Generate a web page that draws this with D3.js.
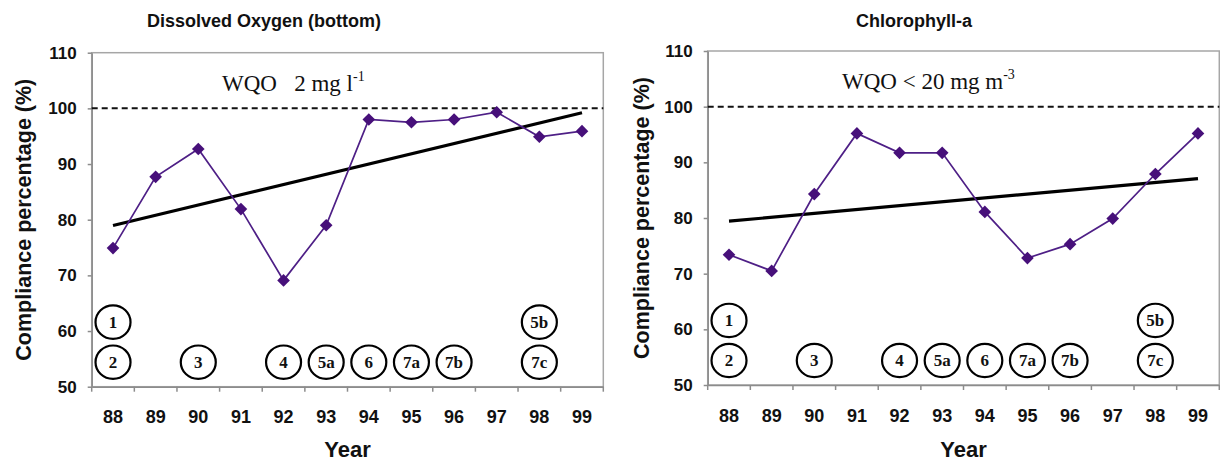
<!DOCTYPE html>
<html><head><meta charset="utf-8">
<script src="https://cdn.jsdelivr.net/npm/d3@7"></script>
<style>
html,body{margin:0;padding:0;background:#fff;}
svg{display:block;}
</style></head>
<body>
<svg id="chart" width="1220" height="462"></svg>
<script>
// ---- data ----
const years = ["88","89","90","91","92","93","94","95","96","97","98","99"];
const doCompliance  = [74.9, 87.7, 92.7, 81.9, 69.1, 79.0, 98.0, 97.5, 98.0, 99.3, 94.9, 95.9];
const chlCompliance = [73.4, 70.5, 84.3, 95.2, 91.7, 91.7, 81.1, 72.8, 75.3, 79.9, 87.9, 95.2];
const yTickValues = [50, 60, 70, 80, 90, 100, 110];
const objectiveLevel = 100;
const markerLabels = ["1","2","3","4","5a","6","7a","7b","5b","7c"];
const markerYears  = ["88","88","90","92","93","94","95","96","98","98"];
const markerRows   = [1, 2, 2, 2, 2, 2, 2, 2, 1, 2];
const titles = ["Dissolved Oxygen (bottom)", "Chlorophyll-a"];
const wqoMain = ["WQO   2 mg l", "WQO < 20 mg m"];
const wqoSup  = ["-1", "-3"];

const svg = d3.select("#chart");
const rowValue = {1: 61.6, 2: 54.4};

function panel(cfg) {
  const {x0, x1, y0, y1, values, title, titleX, wqo, sup, wqoX, wqoY, yTitleX} = cfg;
  const g = svg.append("g");
  const x = d3.scaleBand().domain(years).range([x0, x1]);
  const y = d3.scaleLinear().domain([50, 110]).range([y1, y0]);
  const cx = d => x(d) + x.bandwidth() / 2;

  // frame
  g.append("rect").attr("x", x0).attr("y", y0).attr("width", x1 - x0).attr("height", y1 - y0)
    .attr("fill", "none").attr("stroke", "#a6a6a6").attr("stroke-width", 1.5);

  // y axis
  const ya = g.append("g").attr("transform", `translate(${x0},0)`)
    .call(d3.axisLeft(y).tickValues(yTickValues).tickSize(4).tickSizeOuter(0).tickPadding(11));
  ya.select(".domain").attr("stroke", "#8c8c8c").attr("stroke-width", 1.5);
  ya.selectAll(".tick line").attr("stroke", "#8c8c8c").attr("stroke-width", 1.5);
  ya.selectAll("text").attr("font-family", "Liberation Sans, Arial, sans-serif")
    .attr("font-weight", "bold").attr("font-size", 17).attr("fill", "#111");

  // x axis
  const xa = g.append("g").attr("transform", `translate(0,${y1})`)
    .call(d3.axisBottom(x).tickSize(0).tickSizeOuter(0).tickPadding(24));
  xa.select(".domain").attr("stroke", "#8c8c8c").attr("stroke-width", 1.5);
  xa.selectAll("text").attr("font-family", "Liberation Sans, Arial, sans-serif")
    .attr("font-weight", "bold").attr("font-size", 18).attr("fill", "#111");
  // boundary tick marks
  g.append("g").selectAll("line").data(years.concat(["end"])).join("line")
    .attr("x1", (d, i) => x0 + i * x.step()).attr("x2", (d, i) => x0 + i * x.step())
    .attr("y1", y1).attr("y2", y1 + 5).attr("stroke", "#8c8c8c").attr("stroke-width", 1.5);

  // dashed objective line
  g.append("line").attr("x1", x0).attr("x2", x1).attr("y1", y(objectiveLevel)).attr("y2", y(objectiveLevel))
    .attr("stroke", "#111").attr("stroke-width", 2).attr("stroke-dasharray", "6,4");

  // trend line (least squares from the data)
  const n = values.length;
  const xs = d3.range(n);
  const mx = d3.mean(xs), my = d3.mean(values);
  const slope = d3.sum(xs, i => (i - mx) * (values[i] - my)) / d3.sum(xs, i => (i - mx) ** 2);
  const trend = xs.map(i => my + slope * (i - mx));
  g.append("line")
    .attr("x1", cx(years[0])).attr("y1", y(trend[0]))
    .attr("x2", cx(years[n - 1])).attr("y2", y(trend[n - 1]))
    .attr("stroke", "#000").attr("stroke-width", 3.2);

  // data line
  const line = d3.line().x((d, i) => cx(years[i])).y(d => y(d));
  g.append("path").datum(values).attr("d", line).attr("fill", "none")
    .attr("stroke", "#4e1f86").attr("stroke-width", 1.7);
  g.append("g").selectAll("path").data(values).join("path")
    .attr("d", d3.symbol(d3.symbolSquare, 80))
    .attr("transform", (d, i) => `translate(${cx(years[i])},${y(d)}) rotate(45)`)
    .attr("fill", "#47107a");

  // event markers
  const mk = g.append("g").selectAll("g").data(markerLabels).join("g")
    .attr("transform", (d, i) => `translate(${cx(markerYears[i])},${y(rowValue[markerRows[i]])})`);
  mk.append("ellipse").attr("rx", 17.5).attr("ry", 16.7).attr("fill", "none")
    .attr("stroke", "#000").attr("stroke-width", 2.2);
  mk.append("text").text(d => d).attr("text-anchor", "middle").attr("dy", "0.34em")
    .attr("font-family", "Liberation Serif, Times New Roman, serif")
    .attr("font-weight", "bold").attr("font-size", 17).attr("fill", "#111");

  // title
  g.append("text").attr("x", titleX).attr("y", 27).attr("text-anchor", "middle")
    .attr("font-family", "Liberation Sans, Arial, sans-serif").attr("font-weight", "bold")
    .attr("font-size", 18).attr("fill", "#111").text(title);

  // WQO label
  const wt = g.append("text").attr("x", wqoX).attr("y", wqoY)
    .attr("font-family", "Liberation Serif, Times New Roman, serif").attr("font-size", 23)
    .attr("fill", "#111").style("white-space", "pre");
  wt.append("tspan").text(wqo);
  wt.append("tspan").attr("dy", -10).attr("font-size", 14).text(sup);

  // axis titles
  g.append("text").attr("x", (x0 + x1) / 2).attr("y", 457).attr("text-anchor", "middle")
    .attr("font-family", "Liberation Sans, Arial, sans-serif").attr("font-weight", "bold")
    .attr("font-size", 22).attr("fill", "#111").text("Year");
  g.append("text").attr("transform", `translate(${yTitleX},${(y0 + y1) / 2}) rotate(-90)`)
    .attr("text-anchor", "middle")
    .attr("font-family", "Liberation Sans, Arial, sans-serif").attr("font-weight", "bold")
    .attr("font-size", 21.5).attr("fill", "#111").text("Compliance percentage (%)");
}

panel({x0: 91.7, x1: 603.3, y0: 52.7, y1: 386.7, values: doCompliance, title: titles[0], titleX: 264,
  wqo: wqoMain[0], sup: wqoSup[0], wqoX: 222, wqoY: 91, yTitleX: 31});
panel({x0: 707.7, x1: 1219.3, y0: 51, y1: 385, values: chlCompliance, title: titles[1], titleX: 914,
  wqo: wqoMain[1], sup: wqoSup[1], wqoX: 842, wqoY: 89, yTitleX: 649});
</script>
</body></html>
